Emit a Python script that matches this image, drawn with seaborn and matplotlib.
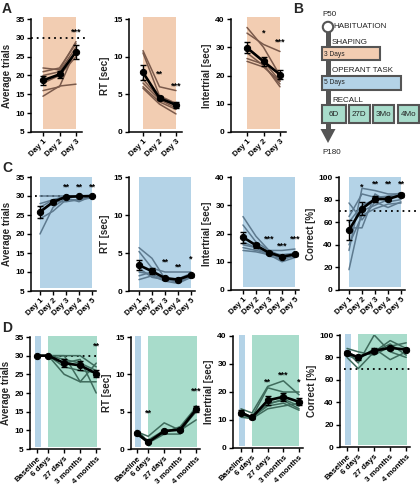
import numpy as np
import pandas as pd
import matplotlib
matplotlib.use("Agg")
import matplotlib.pyplot as plt
import seaborn as sns
from matplotlib.patches import Rectangle, Circle, Polygon

sns.set_style("ticks")
plt.rcParams["font.family"] = ["Liberation Sans", "DejaVu Sans"]
plt.rcParams["font.weight"] = "bold"
plt.rcParams["axes.labelweight"] = "bold"

# ---------------- data ----------------
days3 = ["Day 1", "Day 2", "Day 3"]
days5 = ["Day 1", "Day 2", "Day 3", "Day 4", "Day 5"]
recall_labels = ["Baseline", "6 days", "27 days", "3 months", "4 months"]

# A: shaping
A_trials_mean = [18.7, 20.3, 26.3]
A_trials_sem = [1.2, 1.0, 1.8]
A_trials_subj = [[22, 21.5, 29], [21, 22, 28.5], [16, 17, 27], [14.5, 17.2, 17.7],
                 [20, 21, 27.5], [18, 20, 25]]
A_rt_mean = [7.9, 4.5, 3.6]
A_rt_sem = [1.0, 0.3, 0.4]
A_rt_subj = [[10.8, 6.0, 5.5], [10.5, 4.8, 3.8], [6.5, 4.3, 3.2], [5.8, 3.7, 2.4],
             [7.0, 4.5, 3.5], [6.0, 4.0, 3.0]]
A_iti_mean = [29.8, 25.0, 20.3]
A_iti_sem = [2.0, 1.5, 1.5]
A_iti_subj = [[37, 30, 20], [35, 31, 28.5], [30, 25, 18], [26, 24, 16],
              [25, 23, 18], [28, 23.5, 17]]

# C: operant task
C_trials_mean = [25.8, 28.4, 29.8, 29.9, 30.0]
C_trials_sem = [1.5, 0.5, 0.2, 0.2, 0.1]
C_trials_subj = [[20, 27, 29.5, 30, 30], [24, 26, 29, 29, 30], [27, 29, 30, 30, 30],
                 [26, 28.5, 28.5, 29, 29.5], [30, 30, 30, 30, 30], [28, 29, 29.5, 28.5, 30]]
C_rt_mean = [3.4, 2.6, 1.7, 1.5, 2.1]
C_rt_sem = [0.7, 0.4, 0.2, 0.2, 0.2]
C_rt_subj = [[5.7, 4.3, 1.6, 1.2, 2.0], [5.2, 3.0, 2.5, 2.5, 2.5], [2.5, 2.2, 1.5, 1.2, 1.8],
             [1.5, 2.0, 1.3, 1.0, 1.8], [2.0, 2.5, 1.7, 1.5, 2.2], [3.0, 1.8, 1.5, 1.6, 2.3]]
C_iti_mean = [18.7, 15.8, 13.2, 11.8, 12.6]
C_iti_sem = [2.0, 0.8, 0.4, 0.4, 0.4]
C_iti_subj = [[26, 19, 14, 12, 12], [23, 17, 14, 14, 14.5], [17, 15, 13, 11, 12],
              [14, 13.5, 12.5, 10, 11.5], [16, 15, 12, 11, 12], [15, 14, 13, 12.5, 13]]
C_corr_mean = [53, 72, 80.5, 80.5, 84]
C_corr_sem = [9, 6, 3, 2, 2]
C_corr_subj = [[18, 70, 75, 80, 85], [35, 90, 88, 85, 85], [65, 85, 82, 83, 86],
               [77, 62, 78, 73, 78], [55, 55, 85, 78, 80], [40, 66, 72, 76, 77],
               [60, 75, 80, 82, 84]]

# D: recall
D_trials_mean = [30, 30, 28.0, 27.4, 25.2]
D_trials_sem = [0, 0, 1.0, 1.2, 1.0]
D_trials_subj = [[30, 30, 30, 30, 27], [30, 30, 25, 23, 23], [30, 30, 30, 23, 28],
                 [30, 30, 28, 29, 20], [30, 30, 29, 28, 26], [30, 30, 27, 26, 25.5]]
D_rt_mean = [2.1, 0.9, 2.4, 2.6, 5.3]
D_rt_sem = [0.2, 0.1, 0.2, 0.2, 0.4]
D_rt_subj = [[2.3, 1.7, 3.5, 2.5, 3.9], [2.0, 0.8, 2.0, 2.0, 5.8], [2.5, 1.0, 2.3, 2.8, 5.5],
             [1.8, 1.2, 2.5, 2.5, 5.0], [2.1, 0.9, 2.2, 3.0, 5.6]]
D_iti_mean = [12.6, 10.9, 17.0, 18.3, 16.5]
D_iti_sem = [0.8, 0.6, 1.5, 1.5, 1.2]
D_iti_subj = [[14, 12.5, 22, 24, 19], [12, 11, 21.5, 20, 20], [11, 10.5, 16, 17, 14],
              [13, 11, 15, 16, 13.5], [12.5, 11, 15.5, 17.5, 15], [12, 10.5, 14, 15, 16]]
D_corr_mean = [84, 80, 86, 88.5, 87]
D_corr_sem = [2, 2, 2, 1.5, 1.5]
D_corr_subj = [[85, 75, 100, 85, 80], [80, 70, 85, 95, 88], [88, 85, 82, 90, 93],
               [82, 78, 88, 78, 85], [85, 80, 85, 92, 82]]

# significance stars: (index, text, y)
A_trials_stars = [(2, "***", 31.5)]
A_rt_stars = [(1, "**", 7.7), (2, "***", 6.1)]
A_iti_stars = [(1, "*", 35), (2, "***", 31.9)]
C_trials_stars = [(2, "**", 32.4), (3, "**", 32.4), (4, "**", 32.4)]
C_rt_stars = [(2, "**", 3.8), (3, "**", 3.2), (4, "*", 4.2)]
C_iti_stars = [(2, "***", 18.2), (3, "***", 15.4), (4, "***", 18.2)]
C_corr_stars = [(1, "*", 91), (2, "**", 94), (3, "**", 94), (4, "**", 94)]
D_trials_stars = [(4, "**", 32.6)]
D_rt_stars = [(1, "**", 4.8), (4, "***", 7.8)]
D_iti_stars = [(2, "**", 23.6), (3, "***", 26), (4, "*", 23.6)]
D_corr_stars = []

# ---------------- style ----------------
ORANGE = "#f2cdb2"
BLUE = "#b4d3e7"
GREEN = "#a8dccb"
LINE_A = "#7a5a4b"
LINE_C = "#5e7a8f"
LINE_D = "#3f6b5c"
DARK = "#555555"

W, H = 420, 492
fig = plt.figure(figsize=(W / 100, H / 100), dpi=100)

pos3 = [0, 1, 2]
pos5 = [0, 1, 2, 3, 4]
posR = [0, 0.7, 1.7, 2.7, 3.7]


def make_ax(spine_x, t0, u, right_x, top, bottom, ylim, yticks):
    ax = fig.add_axes([spine_x / W, 1 - bottom / H, (right_x - spine_x) / W, (bottom - top) / H])
    ax.set_xlim((spine_x - t0) / u, (right_x - t0) / u)
    ax.set_ylim(*ylim)
    ax.set_yticks(yticks)
    for s in ["top", "right"]:
        ax.spines[s].set_visible(False)
    for s in ["left", "bottom"]:
        ax.spines[s].set_linewidth(1.1)
        ax.spines[s].set_color("black")
    ax.tick_params(axis="both", length=3, width=1.0, labelsize=6, pad=1.5, colors="black")
    ax.set_facecolor("none")
    return ax


def draw(ax, pos, labels, subj, mean, sem, color, stars, ylabel):
    rows = []
    for i, s in enumerate(subj):
        for p, v in zip(pos, s):
            rows.append({"x": p, "y": v, "sid": i})
    df = pd.DataFrame(rows)
    sns.lineplot(data=df, x="x", y="y", units="sid", estimator=None, color=color,
                 lw=1.1, ax=ax, legend=False, zorder=2)
    ax.errorbar(pos, mean, yerr=sem, fmt="none", ecolor="black", elinewidth=1.0,
                capsize=2, capthick=1.0, zorder=4)
    sns.lineplot(x=pos, y=mean, color="black", lw=1.9, marker="o", markersize=4.5,
                 markeredgecolor="black", ax=ax, zorder=5)
    ax.set_xticks(pos)
    ax.set_xticklabels(labels, rotation=45, ha="right", rotation_mode="anchor", fontsize=5.8)
    ax.set_xlabel("")
    ax.set_ylabel(ylabel, fontsize=7, labelpad=2)
    for i, t, y in stars:
        ax.text(pos[i], y, t, ha="center", va="center", fontsize=6.5, color="black",
                fontweight="bold", zorder=6)


# ---- Row A ----
ax = make_ax(31, 43, 16.5, 82, 19, 132, (5, 35), [5, 10, 15, 20, 25, 30, 35])
ax.axvspan(-0.03, 2.03, ymin=0.03, ymax=1.02, color=ORANGE, lw=0, zorder=0, clip_on=False)
ax.plot([ax.get_xlim()[0], 2.67], [30, 30], ls=(0, (1, 2.2)), color="black", lw=1.3, clip_on=False, zorder=1)
draw(ax, pos3, days3, A_trials_subj, A_trials_mean, A_trials_sem, LINE_A, A_trials_stars, "Average trials")

ax = make_ax(129, 143, 16.5, 182, 19, 132, (0, 15), [0, 5, 10, 15])
ax.axvspan(-0.03, 2.03, ymin=0.03, ymax=1.02, color=ORANGE, lw=0, zorder=0, clip_on=False)
draw(ax, pos3, days3, A_rt_subj, A_rt_mean, A_rt_sem, LINE_A, A_rt_stars, "RT [sec]")

ax = make_ax(231, 247, 16.5, 286, 19, 132, (0, 40), [0, 10, 20, 30, 40])
ax.axvspan(-0.03, 2.03, ymin=0.03, ymax=1.02, color=ORANGE, lw=0, zorder=0, clip_on=False)
draw(ax, pos3, days3, A_iti_subj, A_iti_mean, A_iti_sem, LINE_A, A_iti_stars, "Intertrial [sec]")

# ---- Row C ----
ax = make_ax(31, 40, 13, 96, 177, 291, (5, 35), [5, 10, 15, 20, 25, 30, 35])
ax.axvspan(-0.02, 4.02, ymin=0.03, ymax=1.0, color=BLUE, lw=0, zorder=0)
ax.plot([-0.38, 4.46], [30, 30], ls=(0, (1, 2.2)), color="black", lw=1.3, clip_on=False, zorder=1)
draw(ax, pos5, days5, C_trials_subj, C_trials_mean, C_trials_sem, LINE_C, C_trials_stars, "Average trials")

ax = make_ax(129, 139, 13, 195, 177, 291, (0, 15), [0, 5, 10, 15])
ax.axvspan(-0.02, 4.02, ymin=0.03, ymax=1.0, color=BLUE, lw=0, zorder=0)
draw(ax, pos5, days5, C_rt_subj, C_rt_mean, C_rt_sem, LINE_C, C_rt_stars, "RT [sec]")

ax = make_ax(231, 243, 13, 299, 177, 290, (0, 40), [0, 10, 20, 30, 40])
ax.axvspan(-0.02, 4.02, ymin=0.03, ymax=1.0, color=BLUE, lw=0, zorder=0)
draw(ax, pos5, days5, C_iti_subj, C_iti_mean, C_iti_sem, LINE_C, C_iti_stars, "Intertrial [sec]")

ax = make_ax(339, 349, 13, 405, 177, 290, (0, 100), [0, 20, 40, 60, 80, 100])
ax.axvspan(-0.02, 4.02, ymin=0.03, ymax=1.0, color=BLUE, lw=0, zorder=0)
ax.plot([ax.get_xlim()[0], 5.3], [70, 70], ls=(0, (1, 2.2)), color="black", lw=1.3, clip_on=False, zorder=1)
draw(ax, pos5, days5, C_corr_subj, C_corr_mean, C_corr_sem, LINE_C, C_corr_stars, "Correct [%]")

# ---- Row D ----
def recall_bg(ax):
    ax.axvspan(-0.12, 0.25, ymin=0.02, ymax=1.01, color=BLUE, lw=0, zorder=0, clip_on=False)
    ax.axvspan(0.7, 3.72, ymin=0.02, ymax=1.01, color=GREEN, lw=0, zorder=0, clip_on=False)

ax = make_ax(30, 37, 16, 100, 337, 449, (5, 35), [5, 10, 15, 20, 25, 30, 35])
recall_bg(ax)
ax.plot([0.7, 3.75], [30, 30], ls=(0, (1, 2.2)), color="black", lw=1.3, clip_on=False, zorder=1)
draw(ax, posR, recall_labels, D_trials_subj, D_trials_mean, D_trials_sem, LINE_D, D_trials_stars, "Average trials")

ax = make_ax(131, 137, 16, 200, 337, 449, (0, 15), [0, 5, 10, 15])
recall_bg(ax)
draw(ax, posR, recall_labels, D_rt_subj, D_rt_mean, D_rt_sem, LINE_D, D_rt_stars, "RT [sec]")

ax = make_ax(233, 241, 15.7, 303, 336, 448, (0, 40), [0, 10, 20, 30, 40])
recall_bg(ax)
draw(ax, posR, recall_labels, D_iti_subj, D_iti_mean, D_iti_sem, LINE_D, D_iti_stars, "Intertrial [sec]")

ax = make_ax(340, 347, 16, 410, 335, 447, (0, 100), [0, 20, 40, 60, 80, 100])
recall_bg(ax)
ax.plot([-0.2, 3.94], [70, 70], ls=(0, (1, 2.2)), color="black", lw=1.3, clip_on=False, zorder=1)
draw(ax, posR, recall_labels, D_corr_subj, D_corr_mean, D_corr_sem, LINE_D, D_corr_stars, "Correct [%]")

# ---- Panel letters ----
for lt, x, y in [("A", 2, 9), ("B", 293, 9), ("C", 2, 168), ("D", 2, 328)]:
    fig.text(x / W, 1 - y / H, lt, fontsize=10, fontweight="bold", ha="left", va="center")

# ---- Panel B: timeline ----
bx = fig.add_axes([300 / W, 1 - 160 / H, 120 / W, 160 / H])
bx.set_xlim(300, 420)
bx.set_ylim(160, 0)
bx.axis("off")
bx.add_patch(Rectangle((325.5, 32), 5, 98, facecolor=DARK, edgecolor="none", zorder=1))
bx.add_patch(Polygon([[320.5, 129], [335.5, 129], [328, 143]], closed=True, facecolor=DARK,
                     edgecolor="none", zorder=1))
bx.add_patch(Circle((328, 27), 5.2, facecolor="white", edgecolor=DARK, lw=1.5, zorder=3))
tfont = dict(fontsize=5.8, fontweight="normal", color="#222222", va="center")
bx.text(322, 15, "P50", ha="left", **tfont)
bx.text(333, 27, "HABITUATION", ha="left", **tfont)
bx.text(332, 42, "SHAPING", ha="left", **tfont)
bx.add_patch(Rectangle((322, 47), 58, 13, facecolor=ORANGE, edgecolor=DARK, lw=1.5, zorder=2))
bx.text(324, 54, "3 Days", ha="left", fontsize=4.8, fontweight="normal", color="#222222", va="center", zorder=4)
bx.text(332, 71, "OPERANT TASK", ha="left", **tfont)
bx.add_patch(Rectangle((322, 76), 79, 14, facecolor=BLUE, edgecolor=DARK, lw=1.5, zorder=2))
bx.text(324, 83, "5 Days", ha="left", fontsize=4.8, fontweight="normal", color="#222222", va="center", zorder=4)
bx.text(332, 100, "RECALL", ha="left", **tfont)
for lab, x0, x1 in [("6D", 322, 346), ("27D", 348.5, 370), ("3Mo", 373, 394), ("4Mo", 397.5, 419)]:
    bx.add_patch(Rectangle((x0, 104.5), x1 - x0, 18.5, facecolor=GREEN, edgecolor=DARK, lw=1.5, zorder=2))
    bx.text((x0 + x1) / 2, 114, lab, ha="center", fontsize=5.8, fontweight="normal",
            color="#222222", va="center", zorder=4)
bx.text(322, 152, "P180", ha="left", **tfont)

fig.savefig("out.png", dpi=100)
